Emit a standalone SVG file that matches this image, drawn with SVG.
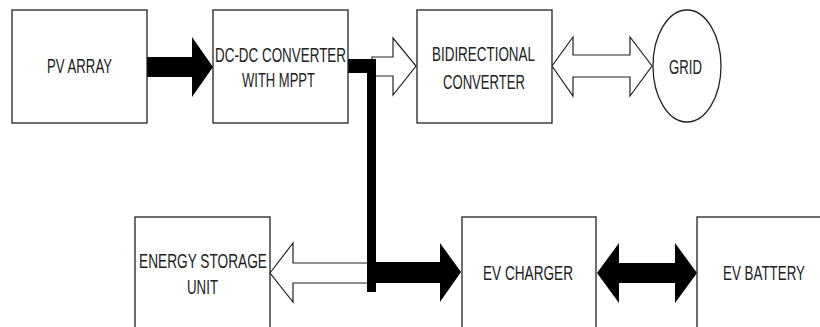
<svg xmlns="http://www.w3.org/2000/svg" width="820" height="327" viewBox="0 0 820 327">
<style>
.box{fill:#fff;stroke:#222;stroke-width:1.3}
.hollow{fill:#fff;stroke:#222;stroke-width:1.2;stroke-linejoin:miter}
.solid{fill:#000;stroke:none}
.lbl{font-family:"Liberation Sans",Arial,sans-serif;font-size:21px;fill:#222}
</style>
<rect width="820" height="327" fill="#fff"/>
<g id="connectors">
<polygon class="solid" points="147,57 192,57 192,37 213,67 192,97 192,77 147,77"/>
<polygon class="hollow" points="552,66 573,37 573,55 630,55 630,37 652,66 630,96 630,77 573,77 573,96"/>
<polygon class="hollow" points="372,57 393,57 393,38 416,66 393,95 393,76 372,76"/>
<polygon class="hollow" points="270,273 293,243 293,263 368,263 368,283 293,283 293,302"/>
<rect class="solid" x="348" y="59" width="25" height="14"/>
<rect class="solid" x="367" y="59" width="9" height="233"/>
<polygon class="solid" points="375,262 440,262 440,243 461,272 440,302 440,283 375,283"/>
<polygon class="solid" points="597,273 619,243 619,263 675,263 675,243 697,273 675,303 675,283 619,283 619,303"/>
</g>
<g id="pv-array">
<rect class="box" x="12" y="10" width="135" height="113"/>
<text class="lbl" x="47" y="73" textLength="65" lengthAdjust="spacingAndGlyphs">PV ARRAY</text>
</g>
<g id="dcdc-converter">
<rect class="box" x="213" y="10" width="135" height="113"/>
<text class="lbl" x="215" y="62" textLength="131" lengthAdjust="spacingAndGlyphs">DC-DC CONVERTER</text>
<text class="lbl" x="242" y="87" textLength="73" lengthAdjust="spacingAndGlyphs">WITH MPPT</text>
</g>
<g id="bidirectional-converter">
<rect class="box" x="417" y="10" width="135" height="113"/>
<text class="lbl" x="432" y="61" textLength="103" lengthAdjust="spacingAndGlyphs">BIDIRECTIONAL</text>
<text class="lbl" x="443" y="89" textLength="82" lengthAdjust="spacingAndGlyphs">CONVERTER</text>
</g>
<g id="grid">
<ellipse class="box" cx="687" cy="66" rx="34" ry="56"/>
<text class="lbl" x="669" y="74" textLength="33" lengthAdjust="spacingAndGlyphs">GRID</text>
</g>
<g id="energy-storage">
<rect class="box" x="135" y="217" width="135" height="113"/>
<text class="lbl" x="139" y="268" textLength="128" lengthAdjust="spacingAndGlyphs">ENERGY STORAGE</text>
<text class="lbl" x="187" y="294" textLength="31" lengthAdjust="spacingAndGlyphs">UNIT</text>
</g>
<g id="ev-charger">
<rect class="box" x="462" y="217" width="134" height="113"/>
<text class="lbl" x="483" y="280" textLength="90" lengthAdjust="spacingAndGlyphs">EV CHARGER</text>
</g>
<g id="ev-battery">
<rect class="box" x="697" y="217" width="135" height="113"/>
<text class="lbl" x="723" y="280" textLength="82" lengthAdjust="spacingAndGlyphs">EV BATTERY</text>
</g>
</svg>
